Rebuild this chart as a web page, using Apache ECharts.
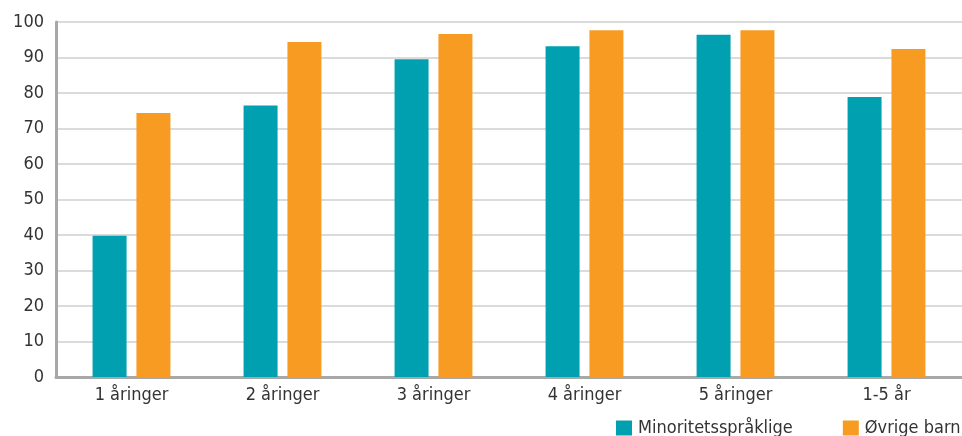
<!DOCTYPE html>
<html><head><meta charset="utf-8">
<script src="https://cdn.jsdelivr.net/npm/echarts@6/dist/echarts.min.js"></script>
<style>html,body{margin:0;padding:0;background:#fff}#c{width:962px;height:436px}</style>
</head><body><div id="c"></div>
<script>
var categories = ["1 åringer", "2 åringer", "3 åringer", "4 åringer", "5 åringer", "1-5 år"];
var minoritet = [39.8, 76.5, 89.5, 93.2, 96.4, 78.9];
var ovrige = [74.4, 94.4, 96.6, 97.7, 97.7, 92.4];
var seriesNames = ["Minoritetsspråklige", "Øvrige barn"];
var FONT = "'Liberation Sans Narrow', 'DejaVu Sans Condensed', 'Noto Sans', sans-serif";
var chart = echarts.init(document.getElementById('c'), null, {renderer: 'canvas'});
chart.setOption({
  animation: false,
  textStyle: {fontFamily: FONT},
  grid: {left: 56, top: 22, width: 912, height: 355, containLabel: false},
  legend: {
    left: 616, top: 419, itemWidth: 16, itemHeight: 15, itemGap: 50, padding: 0,
    icon: 'rect',
    textStyle: {fontSize: 18, color: '#333', fontFamily: FONT, padding: [0, 0, 0, 1]},
    data: seriesNames
  },
  xAxis: {
    type: 'category', data: categories,
    axisLine: {lineStyle: {color: '#a8a8a8', width: 3}},
    axisTick: {show: false},
    axisLabel: {fontSize: 18, color: '#333', margin: 9, fontFamily: FONT}
  },
  yAxis: {
    type: 'value', min: 0, max: 100, interval: 10,
    axisLine: {show: true, lineStyle: {color: '#a8a8a8', width: 3}},
    axisTick: {show: false},
    axisLabel: {fontSize: 18, color: '#333', margin: 12, fontFamily: FONT},
    splitLine: {lineStyle: {color: '#cfcfcf', width: 1.5}}
  },
  series: [
    {name: seriesNames[0], type: 'bar', data: minoritet, barWidth: 34, barGap: '29%',
     itemStyle: {color: '#00A0B0'}},
    {name: seriesNames[1], type: 'bar', data: ovrige, barWidth: 34, barGap: '29%',
     itemStyle: {color: '#F89B23'}}
  ]
});
</script></body></html>
